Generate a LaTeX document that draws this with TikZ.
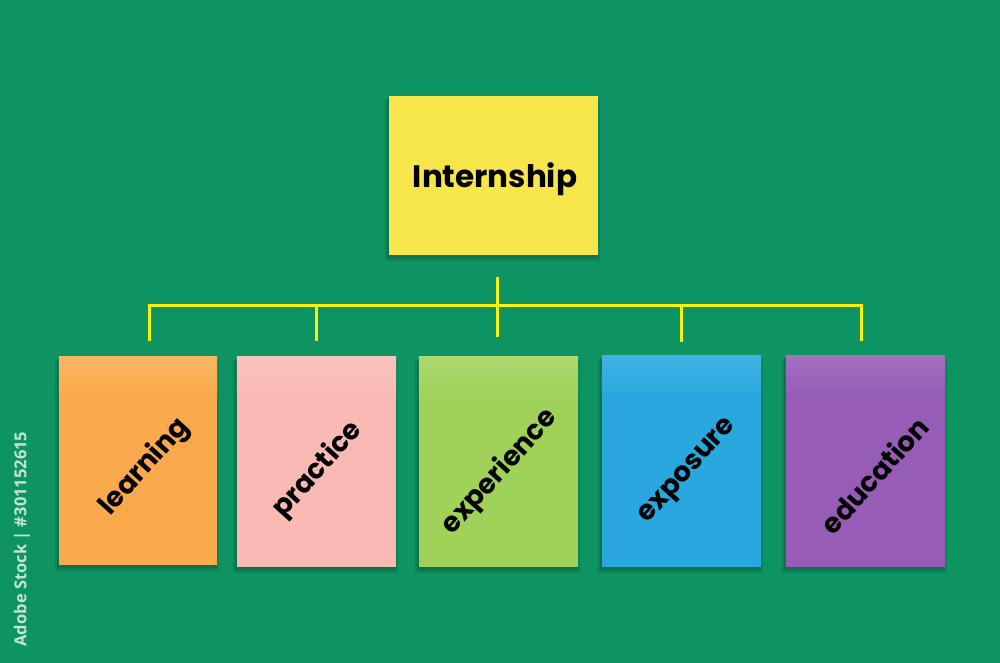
\documentclass[tikz,border=0pt]{standalone}
\usepackage{fontspec}
\newfontfamily\hand{Poppins}
\newfontfamily\wm{Open Sans}
\usetikzlibrary{calc}
\definecolor{board}{RGB}{14,148,98}
\definecolor{yelnote}{RGB}{246,230,76}
\definecolor{ornote}{RGB}{250,170,76}
\definecolor{pknote}{RGB}{249,186,180}
\definecolor{grnote}{RGB}{160,210,90}
\definecolor{blnote}{RGB}{40,168,222}
\definecolor{punote}{RGB}{150,92,182}
\definecolor{treeline}{RGB}{250,240,10}
\definecolor{wmark}{RGB}{195,228,212}
\tikzset{
  note/.style={inner sep=0pt, draw=none},
  word/.style={inner sep=0pt, text=black, font=\hand\bfseries\fontsize{27.5}{27.5}\selectfont},
  topword/.style={inner sep=0pt, text=black, font=\hand\bfseries\fontsize{31}{31}\selectfont},
  tree/.style={draw=treeline, line width=3pt, line cap=butt, line join=miter},
}
\begin{document}
\begin{tikzpicture}[x=1pt,y=-1pt]
\useasboundingbox (0,0) rectangle (1000,663);
\fill[board] (0,0) rectangle (1000,663);
% shadows
\foreach \x/\y/\w/\h in {389/96/209/159, 59/357/158/208, 237/357/159/210, 419/357/159/210, 602/356/159/211, 786/356/159/211}{
  \fill[black,opacity=0.10] (\x-4,\y+3) rectangle (\x+\w+2,\y+\h+6);
  \fill[black,opacity=0.12] (\x-2,\y+2) rectangle (\x+\w,\y+\h+3);
}
% notes
\node[note, fill=yelnote, minimum width=209pt, minimum height=159pt] (ntop) at (493.5,175.5) {};
\node[note, fill=ornote, minimum width=158pt, minimum height=208pt] (n1) at (138,461) {};
\node[note, fill=pknote, minimum width=159pt, minimum height=210pt] (n2) at (316.5,462) {};
\node[note, fill=grnote, minimum width=159pt, minimum height=210pt] (n3) at (498.5,462) {};
\node[note, fill=blnote, minimum width=159pt, minimum height=211pt] (n4) at (681.5,461.5) {};
\node[note, fill=punote, minimum width=159pt, minimum height=211pt] (n5) at (865.5,461.5) {};
% soft light strip on top of lower notes
\foreach \n/\c in {n1/ornote,n2/pknote,n3/grnote,n4/blnote,n5/punote}{
  \shade[top color=\c!88!white, bottom color=\c] (\n.north west) rectangle ($(\n.north east)+(0,40)$);
}
% texts
\node[topword] (ttop) at (495,179) {Internship};
\node[word, rotate=48] (t1) at (145,467) {learning};
\node[word, rotate=48] (t2) at (318,470) {practice};
\node[word, rotate=48] (t3) at (500,472) {experience};
\node[word, rotate=48] (t4) at (689,472) {exposure};
\node[word, rotate=48] (t5) at (874,475) {education};
% tree lines
\coordinate (ctop) at (497,277);
\coordinate (cbot) at (497,337);
\coordinate (hy) at (0,305);
\coordinate (d1) at (149,341);
\coordinate (d2) at (316,341);
\coordinate (d4) at (681,342);
\coordinate (d5) at (861,341);
\draw[tree] (d1) -- (d1|-hy) -- (d5|-hy) -- (d5);
\draw[tree] (d2|-hy) -- (d2);
\draw[tree] (d4|-hy) -- (d4);
\draw[tree] (ctop) -- (cbot);
% side credit
\node[inner sep=0pt, rotate=90, text=wmark, font=\wm\bfseries\fontsize{16.5}{16.5}\selectfont] (credit) at (22,539) {Adobe Stock | \#301152615};
\end{tikzpicture}
\end{document}
